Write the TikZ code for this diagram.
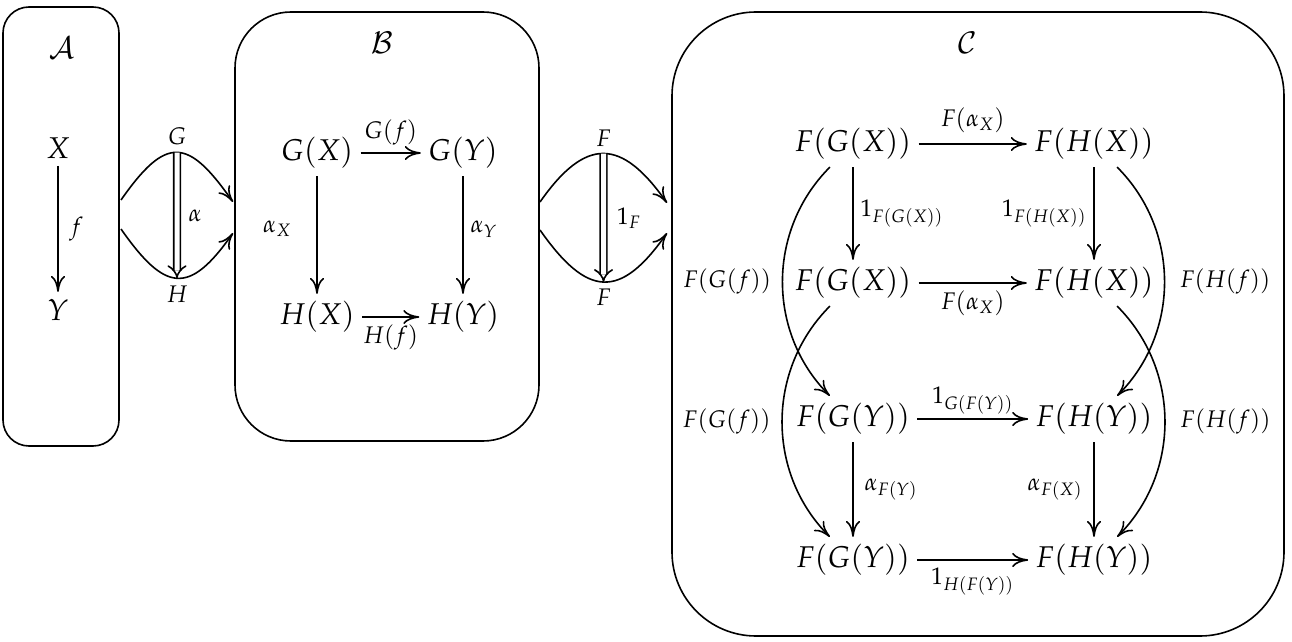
\documentclass[tikz,border=0pt]{standalone}
\usepackage{mathpazo}
\usetikzlibrary{arrows.meta}

\begin{document}
\begin{tikzpicture}[x=0.5pt, y=0.5pt, thick,
    >={To[length=8pt,width=7pt]},
    obj/.style={font=\fontsize{15}{18}\selectfont},
    lbl/.style={font=\fontsize{12}{14}\selectfont},
    cat/.style={draw, rounded corners=#1},
    nat/.style={double, double distance=2.5pt, -{Implies}}]
  \useasboundingbox (0,0) rectangle (1292,-642);

  % the three categories
  \draw[cat=13pt] (3,-7) rectangle (119,-446);
  \draw[cat=28pt] (235,-12) rectangle (539,-441);
  \draw[cat=42pt] (672,-12) rectangle (1284,-636);
  \node[obj] (tA) at (62,-48) {$\mathcal{A}$};
  \node[obj] (tB) at (382,-43) {$\mathcal{B}$};
  \node[obj] (tC) at (968,-43) {$\mathcal{C}$};

  % A
  \node[obj] (X) at (58,-148) {$X$};
  \node[obj] (Y) at (58,-310) {$Y$};
  \draw[->] (X) -- node[lbl, right=2pt] {$f$} (Y);

  % G, H : A -> B
  \coordinate (a1) at (121,-200);
  \coordinate (a2) at (121,-229);
  \coordinate (b1) at (233,-202);
  \coordinate (b2) at (233,-233);
  \draw[->] (a1) to[out=55, in=125, looseness=1.8] node[lbl, above] (G) {$G$} (b1);
  \draw[->] (a2) to[out=-55, in=-125, looseness=1.75] node[lbl, below] (H) {$H$} (b2);
  \draw[nat] (G.south) -- node[lbl, right=2pt] {$\alpha$} (H.north);

  % B
  \node[obj] (GX) at (317,-153) {$G(X)$};
  \node[obj] (GY) at (463,-153) {$G(Y)$};
  \node[obj] (HX) at (317,-317) {$H(X)$};
  \node[obj] (HY) at (463,-317) {$H(Y)$};
  \draw[->] (GX) -- node[lbl, above] {$G(f)$} (GY);
  \draw[->] (HX) -- node[lbl, below] {$H(f)$} (HY);
  \draw[->] (GX) -- node[lbl, left=9pt, pos=.45] {$\alpha_X$} (HX);
  \draw[->] (GY) -- node[lbl, right, pos=.45] {$\alpha_Y$} (HY);

  % F, F : B -> C
  \coordinate (b3) at (540,-202);
  \coordinate (b4) at (540,-230);
  \coordinate (c1) at (667,-203);
  \coordinate (c2) at (667,-233);
  \draw[->] (b3) to[out=55, in=125, looseness=1.6] node[lbl, above] (F1) {$F$} (c1);
  \draw[->] (b4) to[out=-55, in=-125, looseness=1.65] node[lbl, below] (F2) {$F$} (c2);
  \draw[nat] (F1.south) -- node[lbl, right=3pt] {$1_F$} (F2.north);

  % C
  \node[obj] (FGX1) at (853,-144) {$F(G(X))$};
  \node[obj] (FHX1) at (1094,-144) {$F(H(X))$};
  \node[obj] (FGX2) at (853,-283) {$F(G(X))$};
  \node[obj] (FHX2) at (1094,-283) {$F(H(X))$};
  \node[obj] (FGY1) at (853,-419) {$F(G(Y))$};
  \node[obj] (FHY1) at (1094,-419) {$F(H(Y))$};
  \node[obj] (FGY2) at (853,-560) {$F(G(Y))$};
  \node[obj] (FHY2) at (1094,-560) {$F(H(Y))$};

  \draw[->] (FGX1) -- node[lbl, above=2pt] {$F(\alpha_X)$} (FHX1);
  \draw[->] (FGX2) -- node[lbl, below] {$F(\alpha_X)$} (FHX2);
  \draw[->] (FGY1) -- node[lbl, above, inner sep=2pt] {$1_{G(F(Y))}$} (FHY1);
  \draw[->] (FGY2) -- node[lbl, below] {$1_{H(F(Y))}$} (FHY2);
  \draw[->] (FGX1) -- node[lbl, right] {$1_{F(G(X))}$} (FGX2);
  \draw[->] (FHX1) -- node[lbl, left] {$1_{F(H(X))}$} (FHX2);
  \draw[->] (FGY1) -- node[lbl, right=2pt] {$\alpha_{F(Y)}$} (FGY2);
  \draw[->] (FHY1) -- node[lbl, left=2pt] {$\alpha_{F(X)}$} (FHY2);
  \draw[->] (FGX1) to[bend right=45] node[lbl, left=2pt] {$F(G(f))$} (FGY1);
  \draw[->] (FGX2) to[bend right=45] node[lbl, left=2pt] {$F(G(f))$} (FGY2);
  \draw[->] (FHX1) to[bend left=45] node[lbl, right=4pt] {$F(H(f))$} (FHY1);
  \draw[->] (FHX2) to[bend left=45] node[lbl, right=4pt] {$F(H(f))$} (FHY2);
\end{tikzpicture}
\end{document}
